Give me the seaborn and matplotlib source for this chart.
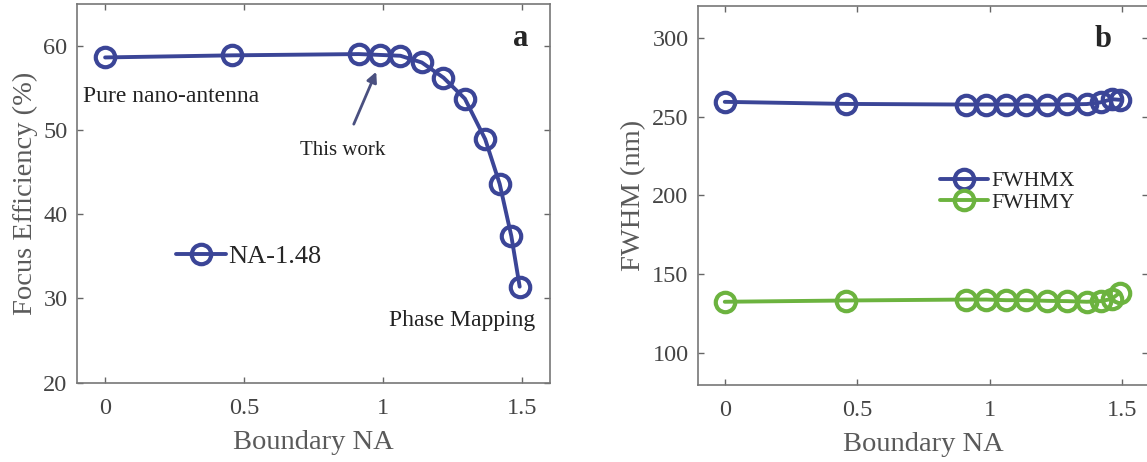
import numpy as np
import pandas as pd
import matplotlib
matplotlib.use("Agg")
import matplotlib.pyplot as plt
import seaborn as sns

# ---- data ----
boundary_na = [0.0, 0.457, 0.912, 0.988, 1.062, 1.139, 1.217, 1.294, 1.367, 1.419, 1.461, 1.491]
focus_eff = [58.6, 58.85, 59.0, 58.9, 58.8, 58.0, 56.2, 53.7, 48.9, 43.6, 37.4, 31.4]
fwhm_x = [259.3, 258.0, 257.6, 257.6, 257.6, 257.6, 257.6, 257.7, 257.9, 259.0, 261.0, 260.6]
fwhm_y = [132.7, 133.5, 134.1, 134.1, 133.7, 133.7, 133.3, 133.1, 132.7, 133.1, 134.5, 138.4]

x_ticks = [0, 0.5, 1, 1.5]
x_tick_labels = ["0", "0.5", "1", "1.5"]
a_y_ticks = [20, 30, 40, 50, 60]
b_y_ticks = [100, 150, 200, 250, 300]

navy = "#3b4597"
green = "#6cb33f"

sns.set_style("ticks")
plt.rcParams["font.family"] = ["Liberation Serif", "DejaVu Serif"]

fig = plt.figure(figsize=(11.47, 4.62), dpi=100)
ax_a = fig.add_axes([0.0674, 0.1716, 0.4121, 0.8208])
ax_b = fig.add_axes([0.6088, 0.1667, 0.3925, 0.8203])

line_kw = dict(marker="o", markersize=14, markerfacecolor="none",
               markeredgewidth=3.0, linewidth=2.8)

df_a = pd.DataFrame({"na": boundary_na, "eff": focus_eff})
sns.lineplot(data=df_a, x="na", y="eff", ax=ax_a, color=navy, mec=navy,
             label="NA-1.48", **line_kw)

df_b = pd.DataFrame({"na": boundary_na, "x": fwhm_x, "y": fwhm_y})
sns.lineplot(data=df_b, x="na", y="x", ax=ax_b, color=navy, mec=navy,
             label="FWHMX", **line_kw)
sns.lineplot(data=df_b, x="na", y="y", ax=ax_b, color=green, mec=green,
             label="FWHMY", **line_kw)

for ax, yt, ylim in [(ax_a, a_y_ticks, (20, 65)), (ax_b, b_y_ticks, (80, 320))]:
    ax.set_xlim(-0.1, 1.6)
    ax.set_ylim(*ylim)
    ax.set_xticks(x_ticks)
    ax.set_xticklabels(x_tick_labels)
    ax.set_yticks(yt)
    ax.tick_params(direction="in", length=4, width=1, color="#666666",
                   labelsize=17.5, labelcolor="#444444", top=True, right=True)
    ax.tick_params(axis="x", pad=11)
    ax.tick_params(axis="y", pad=7)
    for s in ax.spines.values():
        s.set_color("#777777")
        s.set_linewidth(1.2)
    ax.set_xlabel("Boundary NA", fontsize=20.5, color="#5a5a5a", labelpad=8)

ax_a.set_ylabel("Focus Efficiency (%)", fontsize=20.5, color="#5a5a5a", labelpad=4)
ax_b.set_ylabel("FWHM (nm)", fontsize=20.5, color="#5a5a5a", labelpad=4)

# ---- annotations panel a ----
ax_a.text(-0.078, 54.0, "Pure nano-antenna", fontsize=17, color="#222222",
          ha="left", va="center")
ax_a.text(1.283, 27.4, "Phase Mapping", fontsize=17, color="#222222",
          ha="center", va="center")
ax_a.annotate("This work", xy=(0.975, 56.9), xytext=(0.853, 47.5),
              fontsize=15, color="#222222", ha="center", va="center",
              arrowprops=dict(arrowstyle="-|>", color="#4a5080", lw=2.0,
                              shrinkA=11, shrinkB=0, mutation_scale=15))
ax_a.text(1.493, 59.9, "a", fontsize=22, fontweight="bold", ha="center", va="baseline")
ax_b.text(1.428, 294, "b", fontsize=22, fontweight="bold", ha="center", va="baseline")

# ---- legends ----
ax_a.legend(loc="center left", bbox_to_anchor=(0.186, 0.334), frameon=False,
            fontsize=19, handlelength=1.9, handletextpad=0.1, borderaxespad=0)
ax_b.legend(loc="center left", bbox_to_anchor=(0.5175, 0.51), frameon=False,
            fontsize=15.7, handlelength=2.2, handletextpad=0.15, labelspacing=0.05,
            borderaxespad=0)

fig.savefig("out.png", dpi=100)
